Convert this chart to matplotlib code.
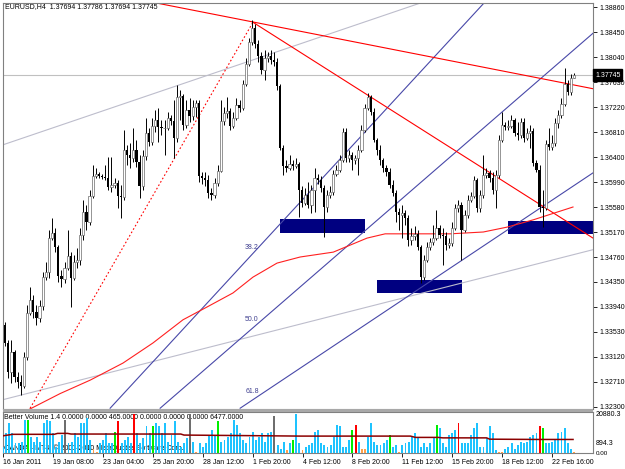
import numpy as np
import matplotlib.pyplot as plt
import matplotlib.transforms as mtransforms
from matplotlib.patches import Rectangle

plt.rcParams['font.family'] = ['Liberation Sans', 'DejaVu Sans']

# EURUSD H4 bars (open of each bar = previous close)
first_open = 1.3397
closes = [
    1.3365, 1.3335, 1.3287, 1.3320, 1.3279, 1.3271, 1.3265, 1.3312, 1.3384, 1.3406,
    1.3386, 1.3376, 1.3396, 1.3443, 1.3451, 1.3507, 1.3515, 1.3492, 1.3445, 1.3440,
    1.3458, 1.3478, 1.3442, 1.3468, 1.3471, 1.3512, 1.3550, 1.3533, 1.3576, 1.3609,
    1.3612, 1.3609, 1.3607, 1.3606, 1.3591, 1.3594, 1.3597, 1.3576, 1.3574, 1.3652,
    1.3643, 1.3638, 1.3652, 1.3632, 1.3593, 1.3642, 1.3679, 1.3665, 1.3691, 1.3701,
    1.3689, 1.3688, 1.3688, 1.3704, 1.3699, 1.3671, 1.3738, 1.3740, 1.3693, 1.3717,
    1.3707, 1.3722, 1.3729, 1.3609, 1.3606, 1.3602, 1.3581, 1.3578, 1.3597, 1.3617,
    1.3699, 1.3712, 1.3716, 1.3691, 1.3704, 1.3725, 1.3720, 1.3760, 1.3793, 1.3829,
    1.3852, 1.3825, 1.3806, 1.3783, 1.3802, 1.3806, 1.3799, 1.3796, 1.3757, 1.3655,
    1.3625, 1.3622, 1.3629, 1.3625, 1.3629, 1.3586, 1.3565, 1.3578, 1.3561, 1.3586,
    1.3606, 1.3602, 1.3589, 1.3558, 1.3578, 1.3583, 1.3612, 1.3619, 1.3635, 1.3681,
    1.3638, 1.3643, 1.3635, 1.3638, 1.3652, 1.3684, 1.3720, 1.3738, 1.3714, 1.3668,
    1.3652, 1.3635, 1.3622, 1.3615, 1.3594, 1.3581, 1.3550, 1.3545, 1.3548, 1.3540,
    1.3504, 1.3510, 1.3514, 1.3492, 1.3443, 1.3471, 1.3492, 1.3501, 1.3507, 1.3524,
    1.3512, 1.3510, 1.3496, 1.3499, 1.3524, 1.3556, 1.3561, 1.3520, 1.3545, 1.3570,
    1.3576, 1.3602, 1.3556, 1.3578, 1.3611, 1.3614, 1.3606, 1.3586, 1.3611, 1.3668,
    1.3693, 1.3689, 1.3691, 1.3701, 1.3679, 1.3676, 1.3697, 1.3671, 1.3679, 1.3683,
    1.3630, 1.3619, 1.3558, 1.3556, 1.3661, 1.3656, 1.3663, 1.3696, 1.3709, 1.3727,
    1.3760, 1.3747, 1.37694, 1.37745]
highs = [
    1.3406, 1.3369, 1.3340, 1.3340, 1.3324, 1.3287, 1.3283, 1.3320, 1.3397, 1.3427,
    1.3414, 1.3397, 1.3406, 1.3451, 1.3468, 1.3520, 1.3540, 1.3524, 1.3496, 1.3455,
    1.3468, 1.3520, 1.3484, 1.3479, 1.3491, 1.3524, 1.3570, 1.3561, 1.3586, 1.3627,
    1.3622, 1.3615, 1.3612, 1.3627, 1.3640, 1.3640, 1.3606, 1.3602, 1.3594, 1.3684,
    1.3660, 1.3663, 1.3688, 1.3668, 1.3643, 1.3652, 1.3704, 1.3688, 1.3704, 1.3717,
    1.3720, 1.3701, 1.3701, 1.3714, 1.3709, 1.3734, 1.3758, 1.3750, 1.3743, 1.3734,
    1.3737, 1.3734, 1.3734, 1.3734, 1.3615, 1.3615, 1.3611, 1.3589, 1.3606, 1.3627,
    1.3734, 1.3722, 1.3738, 1.3720, 1.3714, 1.3737, 1.3734, 1.3766, 1.3802, 1.3835,
    1.3865, 1.3858, 1.3832, 1.3812, 1.3816, 1.3812, 1.3816, 1.3812, 1.3802, 1.3760,
    1.3660, 1.3635, 1.3643, 1.3635, 1.3638, 1.3632, 1.3593, 1.3589, 1.3599, 1.3594,
    1.3622, 1.3612, 1.3609, 1.3594, 1.3586, 1.3593, 1.3619, 1.3627, 1.3643, 1.3688,
    1.3688, 1.3652, 1.3648, 1.3643, 1.3660, 1.3693, 1.3727, 1.3745, 1.3742, 1.3720,
    1.3671, 1.3660, 1.3638, 1.3627, 1.3622, 1.3602, 1.3586, 1.3556, 1.3561, 1.3553,
    1.3545, 1.3524, 1.3527, 1.3520, 1.3496, 1.3479, 1.3501, 1.3507, 1.3529, 1.3553,
    1.3529, 1.3524, 1.3517, 1.3507, 1.3533, 1.3563, 1.3570, 1.3566, 1.3553, 1.3578,
    1.3583, 1.3609, 1.3606, 1.3586, 1.3643, 1.3622, 1.3619, 1.3615, 1.3619, 1.3676,
    1.3714, 1.3697, 1.3701, 1.3709, 1.3704, 1.3697, 1.3704, 1.3704, 1.3688, 1.3693,
    1.3688, 1.3635, 1.3627, 1.3586, 1.3668, 1.3688, 1.3676, 1.3704, 1.3717, 1.3737,
    1.3786, 1.3766, 1.3776, 1.37786]
lows = [
    1.3356, 1.3330, 1.3278, 1.3269, 1.3271, 1.3261, 1.3250, 1.3261, 1.3307, 1.3381,
    1.3376, 1.3365, 1.3369, 1.3389, 1.3438, 1.3442, 1.3504, 1.3484, 1.3435, 1.3427,
    1.3434, 1.3455, 1.3394, 1.3438, 1.3458, 1.3463, 1.3504, 1.3520, 1.3529, 1.3573,
    1.3606, 1.3606, 1.3604, 1.3602, 1.3586, 1.3583, 1.3589, 1.3556, 1.3540, 1.3570,
    1.3627, 1.3622, 1.3632, 1.3624, 1.3573, 1.3586, 1.3635, 1.3658, 1.3660, 1.3681,
    1.3665, 1.3676, 1.3643, 1.3684, 1.3693, 1.3638, 1.3665, 1.3701, 1.3684, 1.3688,
    1.3697, 1.3701, 1.3706, 1.3599, 1.3596, 1.3593, 1.3573, 1.3570, 1.3573, 1.3593,
    1.3615, 1.3693, 1.3704, 1.3684, 1.3688, 1.3701, 1.3714, 1.3717, 1.3757, 1.3789,
    1.3824, 1.3819, 1.3796, 1.3776, 1.3766, 1.3796, 1.3793, 1.3789, 1.3750, 1.3652,
    1.3611, 1.3615, 1.3619, 1.3619, 1.3622, 1.3542, 1.3558, 1.3561, 1.3556, 1.3548,
    1.3550, 1.3596, 1.3583, 1.3509, 1.3550, 1.3573, 1.3578, 1.3609, 1.3615, 1.3632,
    1.3632, 1.3632, 1.3619, 1.3629, 1.3611, 1.3648, 1.3681, 1.3717, 1.3709, 1.3665,
    1.3643, 1.3627, 1.3615, 1.3609, 1.3589, 1.3576, 1.3533, 1.3520, 1.3507, 1.3529,
    1.3494, 1.3496, 1.3504, 1.3488, 1.3434, 1.3438, 1.3468, 1.3488, 1.3496, 1.3504,
    1.3507, 1.3463, 1.3488, 1.3491, 1.3494, 1.3520, 1.3550, 1.3471, 1.3517, 1.3540,
    1.3566, 1.3573, 1.3550, 1.3550, 1.3573, 1.3606, 1.3599, 1.3579, 1.3556, 1.3606,
    1.3665, 1.3684, 1.3684, 1.3688, 1.3675, 1.3668, 1.3671, 1.3665, 1.3668, 1.3655,
    1.3625, 1.3615, 1.3550, 1.3525, 1.3553, 1.3652, 1.3652, 1.3658, 1.3688, 1.3704,
    1.3724, 1.3742, 1.3742, 1.37694]

# Better Volume indicator
volumes = [
    3300, 10600, 16100, 10600, 5100, 5100, 6000, 17900, 17900, 8800,
    6000, 8800, 6000, 16100, 17900, 17000, 10600, 3300, 6000, 9700,
    17900, 5100, 6000, 10600, 8800, 16100, 16100, 18850, 7000, 2400,
    550, 5100, 7000, 10600, 5100, 5100, 11500, 17000, 5100, 7000,
    8800, 5100, 20700, 10600, 5100, 7900, 14300, 10600, 14300, 16100,
    14300, 10600, 16100, 6000, 9700, 17000, 6000, 3300, 5100, 7900,
    20700, 6000, 550, 5100, 3300, 5100, 9700, 12400, 9700, 17000,
    6000, 7000, 8800, 10600, 17900, 15200, 10600, 7000, 5100, 8800,
    11500, 7000, 8800, 10600, 6000, 10600, 11500, 19800, 4200, 2400,
    6000, 1500, 5100, 7000, 20880,
    5100, 1500, 3300, 4200, 5100, 11500, 12400, 5100, 4200, 3300,
    4200, 8800, 15200, 14300, 3300, 3300, 7000, 12400, 15200, 6000,
    2400, 2400, 8800, 16100, 6000, 4200, 4200, 5100, 7000, 9700,
    3300, 4200, 550, 4200, 5100, 6000, 8800, 10600, 8800, 3300,
    5100, 3300, 5100, 7900, 15200, 13400, 5100, 3300, 9700, 10600,
    12400, 16100, 5100, 5100, 5100, 9700, 13400, 16100, 3300, 3300,
    7900, 14300, 10600, 1500, 550, 550, 2400, 3300, 5100, 2400,
    4200, 6000, 5100, 6000, 8800, 9700, 10600, 14300, 13400, 5100,
    5100, 6000, 7000, 10600, 11500, 13400, 5100, 2400, 550]
vol_kind = ("bbbbbbbbgb" "bbbbbbbbbb" "kbbbbbbbbo" "obbbbbgrbb" "bbrbbbbbgb"
            "bbbbbbbbbb" "kbobbbbbbg" "bbbbbbbbbb" "bbbbbbbkbb" "bobgb"
            "bobbbbbbbb" "bbbbbbbgrb" "oobbbbbbbg" "bbobbbbbbb" "bbbbgbbbbb"
            "brbbbbbbbb" "bbbboobbbb" "bbbbbbbrgb" "bbbbbbbbo")
vol_ma_x = [0, 3.1, 16.4, 17.5, 20.7, 21.8, 57, 58, 95.4, 130.6, 132.2, 139.5, 141, 155, 156, 172, 182.7]
vol_ma_y = [9200, 10000, 10000, 10500, 10500, 10150, 10150, 9600, 9050, 9050, 8350, 8350, 8100, 8100, 7400, 7250, 7250]

# moving average on price
ma_x = [8.3, 18.6, 28.2, 38.7, 48.3, 57.9, 65.6, 73.9, 80.3, 88.0, 95.4, 106.0, 116.8, 122.6, 143.4, 154.0, 161.6, 170.0, 182.7]
ma_y = [1.3225, 1.3252, 1.3274, 1.3302, 1.3335, 1.3373, 1.3394, 1.3417, 1.3443, 1.3466, 1.3476, 1.3484, 1.3507, 1.3514, 1.3514, 1.3517, 1.3525, 1.3537, 1.3558]

# drawn objects (bar index, price)
red_lines = [([48.0, 189.1], [1.3894, 1.3752]), ([80.3, 189.1], [1.3861, 1.3507])]
red_dotted = ([9.0, 80.3], [1.3228, 1.3861])
gray_lines = [([0.3, 134.7], [1.3660, 1.3894]), ([0.3, 189.1], [1.3242, 1.3488])]
blue_lines = [([34.6, 155.2], [1.3228, 1.3898]), ([50.6, 189.1], [1.3228, 1.3843]),
              ([76.2, 189.1], [1.3228, 1.3614])]
fib_labels = ["38.2", "50.0", "61.8"]
fib_x = 77.8
fib_y = [1.3492, 1.3374, 1.3255]
zone_x0 = [89.0, 120.0, 161.9]
zone_x1 = [116.2, 147.2, 189.1]
zone_lo = [1.3515, 1.3417, 1.3514]
zone_hi = [1.3538, 1.3438, 1.3535]

price_ticks = [1.38860 - 0.0041 * k for k in range(17)]
date_ticks = list(range(0, 177, 16))
date_labels = ["16 Jan 2011", "19 Jan 08:00", "23 Jan 04:00", "25 Jan 20:00", "28 Jan 12:00",
               "1 Feb 20:00", "4 Feb 12:00", "8 Feb 20:00", "11 Feb 12:00", "15 Feb 20:00",
               "18 Feb 12:00", "22 Feb 16:00"]

fs = 5
frame = '#808080'

fig = plt.figure(figsize=(6.25, 4.69), dpi=100)
ax = fig.add_axes([3 / 625, 60 / 469, 590 / 625, 406 / 469])
axv = fig.add_axes([3 / 625, 16 / 469, 590 / 625, 41 / 469])

c = np.array(closes)
h = np.array(highs)
l = np.array(lows)
o = np.r_[first_open, c[:-1]]
x = np.arange(len(c))
up = c >= o

# zones behind everything
for x0, x1, lo, hi in zip(zone_x0, zone_x1, zone_lo, zone_hi):
    ax.add_patch(Rectangle((x0, lo), x1 - x0, hi - lo, facecolor='#000080', edgecolor='none', zorder=1))

ax.axhline(closes[-1], color='#c0c0c0', lw=0.8, zorder=1)
for xs, ys in gray_lines:
    ax.plot(xs, ys, color='#bdbdcc', lw=0.8, zorder=2)
for xs, ys in blue_lines:
    ax.plot(xs, ys, color='#4848a8', lw=0.8, zorder=2)
for xs, ys in red_lines:
    ax.plot(xs, ys, color='#ff0000', lw=0.8, zorder=2)
ax.plot(red_dotted[0], red_dotted[1], color='#ff0000', lw=0.8, ls=(0, (1.5, 2)), zorder=2)
ax.plot(ma_x, ma_y, color='#ff2020', lw=0.8, zorder=2)
for lab, fy in zip(fib_labels, fib_y):
    ax.text(fib_x, fy, lab, color='#404090', fontsize=fs, va='center', ha='left', zorder=2)

# candles
ax.vlines(x, l, h, color='black', lw=0.7, zorder=3)
ax.bar(x[up], (c - o)[up], bottom=o[up], width=0.72, facecolor='white',
       edgecolor='#6a6a6a', lw=0.5, zorder=4)
ax.bar(x[~up], (o - c)[~up], bottom=c[~up], width=0.72, color='black', lw=0, zorder=4)

ax.set_xlim(0.32, 189.1)
ax.set_ylim(1.32267, 1.38926)
ax.yaxis.tick_right()
ax.set_yticks(price_ticks)
ax.set_yticklabels(['%.5f' % p for p in price_ticks])
ax.tick_params(axis='y', direction='out', length=3, width=0.6, labelsize=fs, pad=1.5)
ax.set_xticks([])
for s in ax.spines.values():
    s.set_color(frame)
    s.set_linewidth(0.8)

ax.text(2 / 590, 1 - 4 / 406, "EURUSD,H4  1.37694 1.37786 1.37694 1.37745", transform=ax.transAxes,
        fontsize=fs, va='center', ha='left', zorder=6)
trans = mtransforms.blended_transform_factory(ax.transAxes, ax.transData)
ax.text(1 + 2 / 590, closes[-1], "1.37745", transform=trans, fontsize=fs, color='white',
        va='center', ha='left', clip_on=False, zorder=10,
        bbox=dict(boxstyle='square,pad=0.3', fc='black', ec='black'))

# volume panel
kind_color = {'b': '#1ec3ff', 'g': '#00ee00', 'r': '#ff0000', 'k': '#6e6e6e', 'o': '#ffa04a'}
axv.bar(x, volumes, width=0.62, color=[kind_color[k] for k in vol_kind], lw=0, zorder=3)
axv.plot(vol_ma_x, vol_ma_y, color='#8b0000', lw=1.1, zorder=4)
axv.set_xlim(0.32, 189.1)
axv.set_ylim(0, 21950)
axv.set_yticks([])
axv.set_xticks(date_ticks)
axv.set_xticklabels(date_labels, ha='left')
axv.tick_params(axis='x', direction='out', length=3, width=0.6, labelsize=fs, pad=1.5)
for s in axv.spines.values():
    s.set_color(frame)
    s.set_linewidth(0.8)
axv.text(1 / 590, 0.86, "Better Volume 1.4 0.0000 0.0000 465.0000 0.0000 0.0000 0.0000 6477.0000",
         transform=axv.transAxes, fontsize=fs, va='center', ha='left', zorder=2)
axv.text(1 / 590, 0.12, "OANDA - MT4, \u00a9 2001-2010 MetaQuotes Software Corp.",
         transform=axv.transAxes, fontsize=fs, va='center', ha='left', zorder=2)
axv.text(1 + 3 / 590, 0.93, "20880.3", transform=axv.transAxes, fontsize=fs, va='center', ha='left')
axv.text(1 + 3 / 590, 0.24, "894.3", transform=axv.transAxes, fontsize=fs, va='center', ha='left')
axv.text(1 + 3 / 590, 0.0, "0.00", transform=axv.transAxes, fontsize=fs - 0.5, va='center', ha='left')

# separator between the two windows
fig.add_artist(Rectangle((3 / 625, 57 / 469), 590 / 625, 3 / 469, transform=fig.transFigure,
                         facecolor='#a8a8a8', edgecolor='none'))

fig.savefig('out.png', dpi=100)
